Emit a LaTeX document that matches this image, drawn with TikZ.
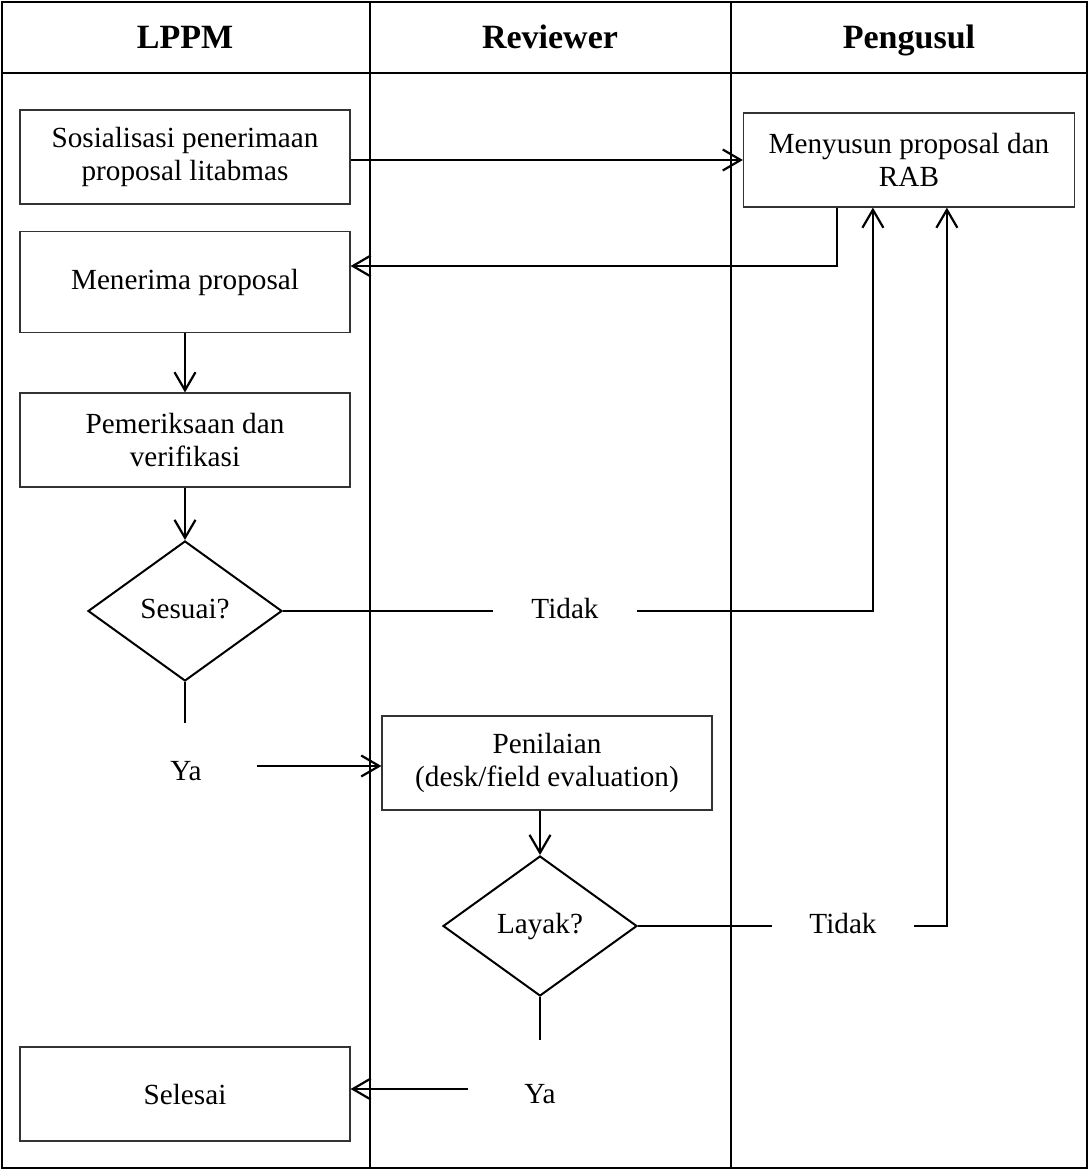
\documentclass[tikz,border=0pt]{standalone}
\usepackage{fontspec}
\setmainfont{Liberation Serif}
\usetikzlibrary{shapes.geometric,arrows.meta,calc}
\begin{document}
\begin{tikzpicture}[x=1pt,y=-1pt,
 every node/.style={font=\fontsize{29.2}{33.6}\selectfont},
 hdr/.style={font=\fontsize{34}{40}\selectfont\bfseries,text height=23pt,text depth=7pt,inner sep=0pt},
 box/.style={draw=black!80,line width=1.2pt,minimum width=330pt,minimum height=94pt,align=center,inner sep=0pt},
 dec/.style={draw=black,line width=2pt,diamond,minimum width=194pt,minimum height=140pt,aspect=1.386,inner sep=0pt,text height=20pt,text depth=6pt},
 lane/.style={line width=2pt},
 conn/.style={line width=2.2pt},
 arr/.style={conn,-{Straight Barb[length=18pt,width=21pt]}},
 lbl/.style={inner sep=0pt,minimum height=30pt,text height=20pt,text depth=6pt},
 yalbl/.style={inner sep=0pt,minimum height=30pt,text height=30pt,text depth=2pt}
]
\useasboundingbox (0,0) rectangle (1089,1170);
% swimlane frame
\draw[lane] (2,2) rectangle (1087,1168);
\draw[lane] (2,73) -- (1087,73);
\draw[lane] (370,2) -- (370,1168);
\draw[lane] (731,2) -- (731,1168);
\node[hdr] (h1) at (185,40) {LPPM};
\node[hdr] (h2) at (550,40) {Reviewer};
\node[hdr] (h3) at (909,40) {Pengusul};
% nodes
\node[box] (sos) at (185,157) {Sosialisasi penerimaan\\proposal litabmas};
\node[box,minimum width=331pt] (mny) at (909,160) {Menyusun proposal dan\\RAB};
\node[box,minimum height=101pt] (mnr) at (185,282) {Menerima proposal};
\node[box] (pem) at (185,440) {Pemeriksaan dan\\verifikasi};
\node[dec] (ses) at (185,611) {Sesuai?};
\node[box] (pen) at (547,763) {Penilaian\\(desk/field evaluation)};
\node[dec] (lay) at (540,926) {Layak?};
\node[box] (sel) at (185,1094) {Selesai};
\node[lbl,minimum width=144pt] (t1) at (565,611) {Tidak};
\node[yalbl,minimum width=142pt] (y1) at (186,766) {Ya};
\node[lbl,minimum width=142pt] (t2) at (843,926) {Tidak};
\node[yalbl,minimum width=144pt] (y2) at (540,1089) {Ya};
% coordinates
\coordinate (mfb) at ($(mny.south west)+(94,0)$);
\coordinate (mnrin) at ($(mnr.east)+(0,-16)$);
\coordinate (m1) at ($(mny.south west)+(130,0)$);
\coordinate (m2) at ($(mny.south west)+(204,0)$);
\coordinate (sesend) at ($(ses.south)+(0,41)$);
\coordinate (layend) at ($(lay.south)+(0,43)$);
% connectors
\draw[arr] (sos.east |- mny.west) -- (mny.west);
\draw[arr] (mfb) |- (mnrin);
\draw[arr] (mnr) -- (pem);
\draw[arr] (pem) -- (ses);
\draw[conn] (ses.east) -- (t1.west);
\draw[arr] (t1.east) -| (m1);
\draw[conn] (ses.south) -- (sesend);
\draw[arr] (y1.east) -- (y1.east -| pen.west);
\draw[arr] (lay.north |- pen.south) -- (lay.north);
\draw[conn] (lay.east) -- (t2.west);
\draw[arr] (t2.east) -| (m2);
\draw[conn] (lay.south) -- (layend);
\draw[arr] (y2.west) -- (y2.west -| sel.east);
\end{tikzpicture}
\end{document}
